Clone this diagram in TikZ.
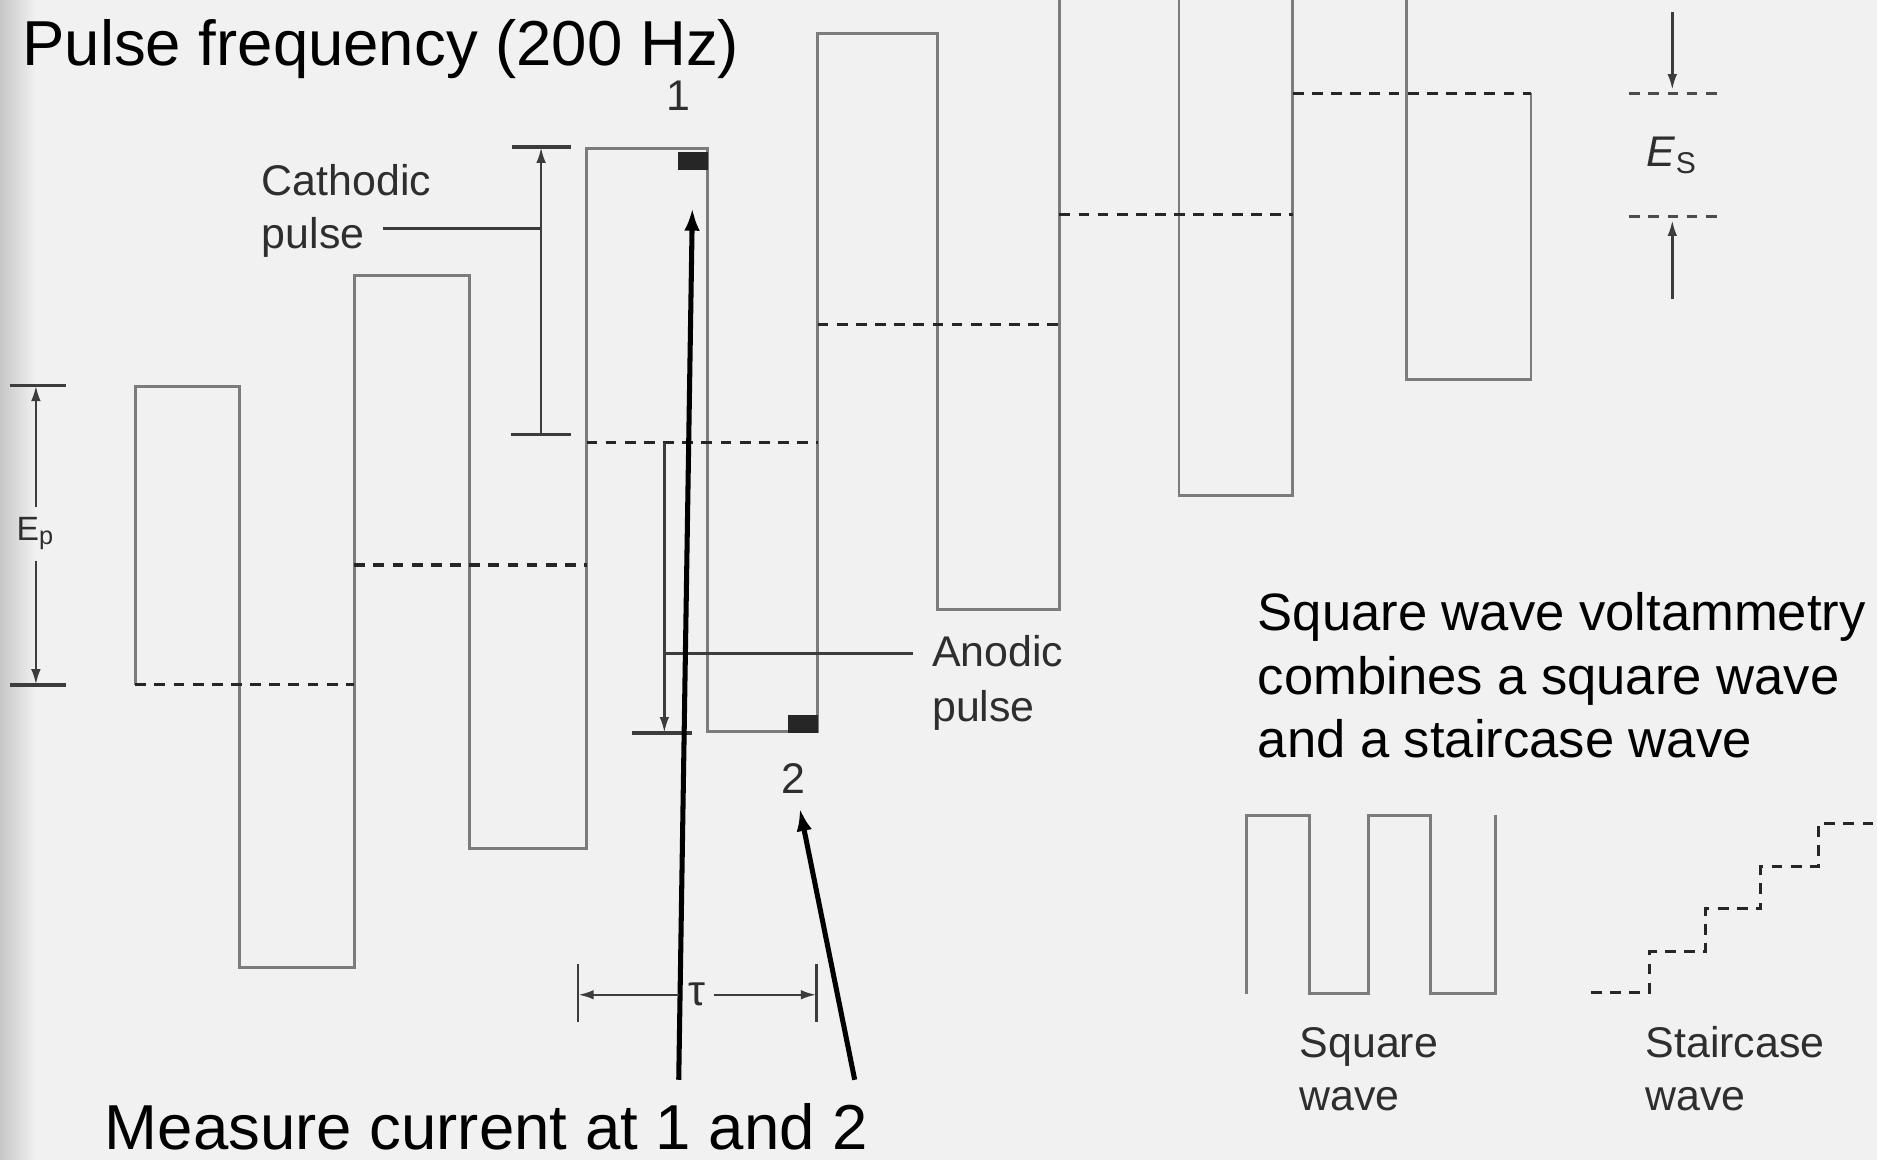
\documentclass[tikz,border=0pt]{standalone}
\usepackage{fontspec}
\setmainfont{Liberation Sans}
\usepackage{tikz}
\usetikzlibrary{arrows.meta,positioning,calc}
\definecolor{SwvBg}{HTML}{F1F1F1}
\definecolor{SwvWave}{HTML}{7C7C7C}
\definecolor{SwvDim}{HTML}{3C3C3C}
\definecolor{SwvInk}{HTML}{2E2E2E}

\begin{document}
\begin{tikzpicture}[x=0.1mm,y=-0.1mm, big/.style={font=\fontsize{15.1}{18}\selectfont,anchor=base west,inner sep=0pt}, note/.style={font=\fontsize{12.5}{15.08}\selectfont,anchor=base west,inner sep=0pt,align=left}, lbl/.style={font=\fontsize{10.2}{12.6}\selectfont,text=SwvInk,anchor=base west,inner sep=1.5mm}, num/.style={font=\fontsize{10.2}{12}\selectfont,text=SwvInk,inner sep=1.2mm}, wave/.style={draw=SwvWave,line width=0.65pt}, lvl/.style={draw=black!85,line width=0.75pt,dash pattern=on 0.9mm off 0.7mm}, dim/.style={draw=SwvDim,line width=0.6pt}, da/.style={dim,-{Latex[length=1.3mm,width=0.8mm]}}, ma/.style={draw=black,line width=1.2pt,-{Latex[length=1.9mm,width=1.3mm]}}, probe/.style={fill=black!85,minimum width=2.5mm,minimum height=1.5mm,inner sep=0pt}]
\fill[SwvBg] (0,0) rectangle (1568,969);
\shade[left color=black!22,right color=SwvBg] (0,0) rectangle (30,969);
\useasboundingbox (0,0) rectangle (1568,969);
\draw[wave] (113,572) |- (200,323) |- (296,808) |- (392,230) |- (490,709) |- (591,124) |- (683,611) |- (783,28) |- (885,509) -- (885,0);
\draw[wave] (985,0) |- (1080,414) -- (1080,0);
\draw[wave] (1175,0) |- (1279,317) -- (1279,78);
\foreach \xa/\xb/\yy in {113/296/572,296/490/472,490/683/370,683/885/271,885/1080/179,1080/1279/78}
  \draw[lvl] (\xa,\yy) -- (\xb,\yy);
\node[big] (title) at (18,55) {Pulse frequency (200 Hz)};
\node[big] (measure) at (87,960) {Measure current at 1 and 2};
\node[note] (swv) at (1050,633) {Square wave voltammetry\\combines a square wave\\and a staircase wave};
\draw[dim,line width=0.9pt] (8,322) -- (55,322) (8,572) -- (55,572);
\node[font=\fontsize{8}{9}\selectfont,text=SwvInk,inner sep=0.8mm] (ep) at (30,446) {E\textsubscript{p}};
\coordinate (eptop) at (30,322);
\coordinate (epbot) at (30,572);
\draw[da] (ep) -- (eptop);
\draw[da] (ep) -- (epbot);
\draw[dim,line width=0.9pt] (428,123) -- (477,123) (427,363) -- (477,363);
\coordinate (cathtop) at (452,123);
\coordinate (cathbot) at (452,363);
\coordinate (cathmid) at (452,191);
\draw[da] (cathbot) -- (cathtop);
\node[lbl] (cathA) at (203,163) {Cathodic};
\node[lbl] (cathB) at (203,208) {pulse};
\draw[dim] (cathB.east |- cathmid) -- (cathmid);
\draw[dim,line width=0.9pt] (528,612) -- (578,612);
\coordinate (anodtop) at (555,370);
\coordinate (anodbot) at (555,612);
\coordinate (anodmid) at (555,546);
\draw[da] (anodtop) -- (anodbot);
\node[lbl] (anodA) at (763,557) {Anodic};
\node[lbl] (anodB) at (763,603) {pulse};
\draw[dim] (anodmid) -- (anodA.west |- anodmid);
\node[probe] (sq1) at (579,134.5) {};
\node[probe] (sq2) at (671,604.5) {};
\node[num] (n1) at (567,80) {1};
\node[num] (n2) at (663,650) {2};
\coordinate (m1) at (567,902);
\coordinate (m2) at (714,902);
\draw[ma,shorten >=3.1mm] (m1) -- (sq1);
\draw[ma] (m2) -- (n2);
\draw[dim] (483,805) -- (483,854) (682,805) -- (682,854);
\node[num,inner sep=0.7mm] (tau) at (582,831) {τ};
\coordinate (tauL) at (483,831);
\coordinate (tauR) at (682,831);
\draw[da] (tau) -- (tauL);
\draw[da] (tau) -- (tauR);
\draw[lvl,draw=black!70] (1361,78) -- (1434,78) (1361,181) -- (1434,181);
\node[num] (es) at (1397,130) {\textit{E}\textsubscript{S}};
\coordinate (esA) at (1397,10);
\coordinate (esB) at (1397,75);
\coordinate (esC) at (1397,250);
\coordinate (esD) at (1397,184);
\draw[da] (esA) -- (esB);
\draw[da] (esC) -- (esD);
\draw[wave] (1041,830) |- (1094,681) |- (1143,830) |- (1195,681) |- (1249,830) -- (1249,681);
\draw[lvl] (1329,829) -| (1378,795) -| (1425,759) -| (1471,724) -| (1519,688) -- (1568,688);
\node[lbl,align=left] (sqw) at (1070,928) {Square\\wave};
\node[lbl,align=left] (stw) at (1359,928) {Staircase\\wave};
\end{tikzpicture}
\end{document}
